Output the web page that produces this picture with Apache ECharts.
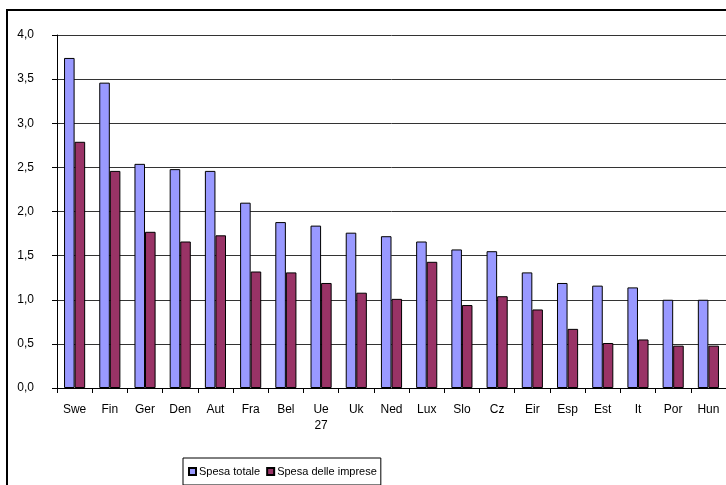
<!DOCTYPE html>
<html>
<head>
<meta charset="utf-8">
<script src="https://cdn.jsdelivr.net/npm/echarts@6/dist/echarts.min.js"></script>
<style>
  html, body { margin: 0; padding: 0; background: #fff; }
  #chart { width: 726px; height: 485px; }
</style>
</head>
<body>
<div id="chart"></div>
<script>
// paesi
const paesi = ["Swe", "Fin", "Ger", "Den", "Aut", "Fra", "Bel", "Ue\n27", "Uk", "Ned", "Lux", "Slo", "Cz", "Eir", "Esp", "Est", "It", "Por", "Hun"];
// spesa totale
const spesaTotale = [3.74, 3.46, 2.54, 2.48, 2.46, 2.10, 1.88, 1.84, 1.76, 1.72, 1.66, 1.57, 1.55, 1.31, 1.19, 1.16, 1.14, 1.00, 1.00];
// spesa delle imprese
const spesaImprese = [2.79, 2.46, 1.77, 1.66, 1.73, 1.32, 1.31, 1.19, 1.08, 1.01, 1.43, 0.94, 1.04, 0.89, 0.67, 0.51, 0.55, 0.48, 0.48];

const font = "Liberation Sans, Arial, sans-serif";

let chart = echarts.init(document.getElementById("chart"));
chart.setOption({
  animation: false,
  textStyle: { fontFamily: font },
  graphic: [
    {
      type: "rect",
      shape: { x: 7, y: 10, width: 800, height: 600 },
      style: { fill: null, stroke: "#000", lineWidth: 2 },
      silent: true,
      z: 0,
    },
  ],
  grid: { left: 57, top: 35, right: -2, bottom: 97 },
  legend: {
    data: ["Spesa totale", "Spesa delle imprese"],
    left: 183,
    top: 458,
    itemWidth: 7,
    itemHeight: 7,
    itemGap: 6,
    padding: [8, 4, 8, 5],
    borderColor: "#000",
    borderWidth: 1,
    textStyle: { fontSize: 11, color: "#000", padding: [0, 0, 0, -2] },
    icon: "rect",
  },
  xAxis: {
    type: "category",
    data: paesi,
    axisLine: { lineStyle: { color: "#000", width: 1 } },
    axisTick: { show: true, length: 5, lineStyle: { color: "#000" } },
    axisLabel: { color: "#000", fontSize: 12, margin: 14, lineHeight: 16, interval: 0 },
  },
  yAxis: {
    type: "value",
    min: 0,
    max: 4,
    interval: 0.5,
    axisLine: { show: true, lineStyle: { color: "#000", width: 1 } },
    axisTick: { show: true, length: 5, lineStyle: { color: "#000" } },
    axisLabel: {
      color: "#000",
      fontSize: 12,
      margin: 23,
      formatter: (v) => v.toFixed(1).replace(".", ","),
    },
    splitLine: { lineStyle: { color: "#333", width: 1 } },
  },
  series: [
    {
      name: "Spesa totale",
      type: "bar",
      data: spesaTotale,
      barGap: 0,
      barCategoryGap: "40%",
      itemStyle: { color: "#9999FF", borderColor: "#000", borderWidth: 1 },
    },
    {
      name: "Spesa delle imprese",
      type: "bar",
      data: spesaImprese,
      itemStyle: { color: "#993366", borderColor: "#000", borderWidth: 1 },
    },
  ],
});
</script>
</body>
</html>
